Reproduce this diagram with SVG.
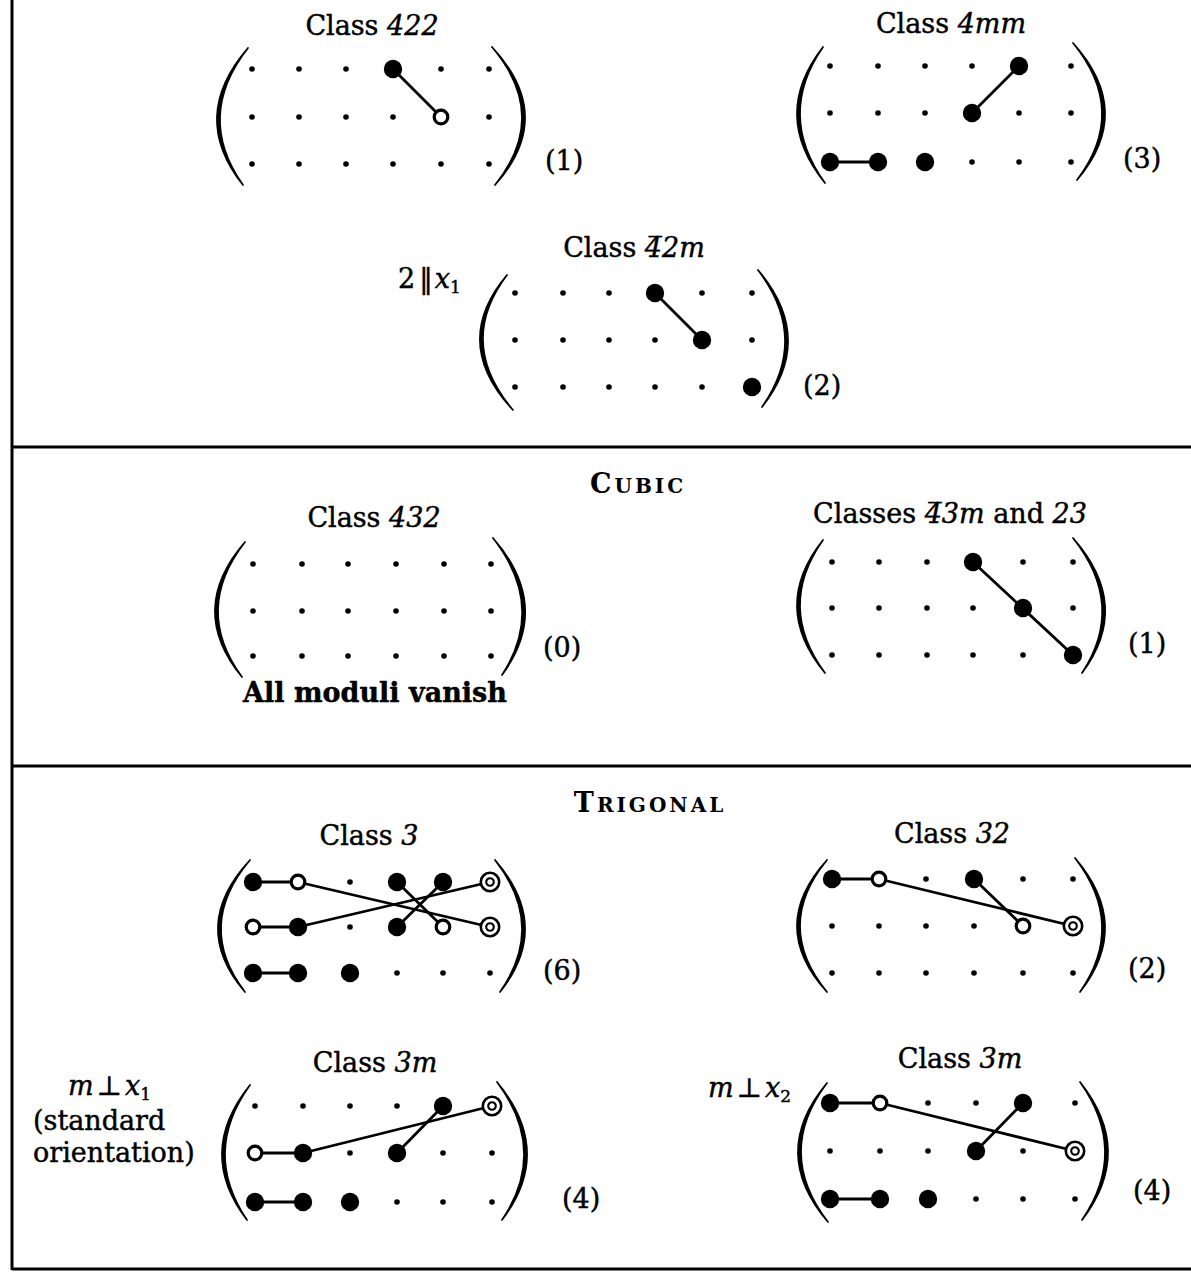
<svg xmlns="http://www.w3.org/2000/svg" xmlns:xlink="http://www.w3.org/1999/xlink" width="1191" height="1279" viewBox="0 0 1191 1279">
<style>
.t{font-family:"DejaVu Serif","Liberation Serif",serif;font-size:27px;fill:#000;stroke:#000;stroke-width:0.45px}
.m{text-anchor:middle}
.i{font-style:italic}
.b{font-weight:bold}
.sub{font-size:17px}
.par{fill:#000;stroke:#000;stroke-width:1.7;stroke-linejoin:round}
.ln{stroke:#000;stroke-width:2.8;fill:none;stroke-linecap:round}
.rule{stroke:#000;stroke-width:3;fill:none}
.hd{font-family:"DejaVu Serif","Liberation Serif",serif;font-weight:bold;fill:#000;letter-spacing:3px}
</style>
<defs>
<circle id="sd" r="2.8" fill="#000"/>
<circle id="bd" r="9.2" fill="#000"/>
<circle id="od" r="6.8" fill="#fff" stroke="#000" stroke-width="3.2"/>
<g id="dd"><circle r="9.2" fill="#fff" stroke="#000" stroke-width="2.6"/><circle r="3.8" fill="#fff" stroke="#000" stroke-width="2.1"/></g>
</defs>
<rect width="1191" height="1279" fill="#fff"/>

<g id="frame">
<line class="rule" x1="12" y1="0" x2="12" y2="1270"/>
<line class="rule" x1="12" y1="447" x2="1191" y2="447"/>
<line class="rule" x1="12" y1="766" x2="1191" y2="766"/>
<line class="rule" x1="12" y1="1269" x2="1191" y2="1269"/>
</g>

<g id="headings">
<text class="hd" x="638" y="493" text-anchor="middle"><tspan font-size="27">C</tspan><tspan font-size="20">UBIC</tspan></text>
<text class="hd" x="650" y="812" text-anchor="middle"><tspan font-size="27">T</tspan><tspan font-size="20">RIGONAL</tspan></text>
</g>

<g id="connectors">
<line class="ln" x1="393" y1="69" x2="441" y2="117"/>
<line class="ln" x1="1019" y1="66" x2="972" y2="113"/>
<line class="ln" x1="830" y1="162" x2="878" y2="162"/>
<line class="ln" x1="655" y1="293" x2="702" y2="340"/>
<line class="ln" x1="973" y1="562" x2="1073" y2="655"/>
<line class="ln" x1="253" y1="882" x2="298" y2="882"/>
<line class="ln" x1="253" y1="927" x2="298" y2="927"/>
<line class="ln" x1="253" y1="973" x2="298" y2="973"/>
<line class="ln" x1="298" y1="882" x2="490" y2="927"/>
<line class="ln" x1="298" y1="927" x2="490" y2="882"/>
<line class="ln" x1="397" y1="882" x2="443" y2="927"/>
<line class="ln" x1="443" y1="882" x2="397" y2="927"/>
<line class="ln" x1="832" y1="879" x2="879" y2="879"/>
<line class="ln" x1="879" y1="879" x2="1073" y2="926"/>
<line class="ln" x1="974" y1="879" x2="1023" y2="926"/>
<line class="ln" x1="255" y1="1153" x2="303" y2="1153"/>
<line class="ln" x1="255" y1="1202" x2="303" y2="1202"/>
<line class="ln" x1="303" y1="1153" x2="492" y2="1106"/>
<line class="ln" x1="443" y1="1106" x2="397" y2="1153"/>
<line class="ln" x1="830" y1="1103" x2="880" y2="1103"/>
<line class="ln" x1="830" y1="1199" x2="880" y2="1199"/>
<line class="ln" x1="880" y1="1103" x2="1075" y2="1151"/>
<line class="ln" x1="1023" y1="1103" x2="976" y2="1151"/>
</g>

<g id="class-422">
<text class="t m" x="372" y="35">Class <tspan class="i">422</tspan></text>
<path class="par" d="M248,48 Q188.5,116.5 243,185 Q194.5,116.5 248,48Z"/>
<path class="par" d="M492,47 Q556.5,116 495,185 Q550.5,116 492,47Z"/>
<use href="#sd" x="252" y="69"/><use href="#sd" x="299" y="69"/><use href="#sd" x="346" y="69"/><use href="#bd" x="393" y="69"/><use href="#sd" x="441" y="69"/><use href="#sd" x="489" y="69"/>
<use href="#sd" x="252" y="117"/><use href="#sd" x="299" y="117"/><use href="#sd" x="346" y="117"/><use href="#sd" x="393" y="117"/><use href="#od" x="441" y="117"/><use href="#sd" x="489" y="117"/>
<use href="#sd" x="252" y="164"/><use href="#sd" x="299" y="164"/><use href="#sd" x="346" y="164"/><use href="#sd" x="393" y="164"/><use href="#sd" x="441" y="164"/><use href="#sd" x="489" y="164"/>
<text class="t" x="545" y="170">(1)</text>
</g>

<g id="class-4mm">
<text class="t m" x="951" y="33">Class <tspan class="i">4mm</tspan></text>
<path class="par" d="M823,47 Q770,115 825,183 Q776,115 823,47Z"/>
<path class="par" d="M1073,43 Q1135,111.5 1077,180 Q1129,111.5 1073,43Z"/>
<use href="#sd" x="830" y="66"/><use href="#sd" x="878" y="66"/><use href="#sd" x="925" y="66"/><use href="#sd" x="972" y="66"/><use href="#bd" x="1019" y="66"/><use href="#sd" x="1071" y="66"/>
<use href="#sd" x="830" y="113"/><use href="#sd" x="878" y="113"/><use href="#sd" x="925" y="113"/><use href="#bd" x="972" y="113"/><use href="#sd" x="1019" y="113"/><use href="#sd" x="1071" y="113"/>
<use href="#bd" x="830" y="162"/><use href="#bd" x="878" y="162"/><use href="#bd" x="925" y="162"/><use href="#sd" x="972" y="162"/><use href="#sd" x="1019" y="162"/><use href="#sd" x="1071" y="162"/>
<text class="t" x="1123" y="168">(3)</text>
</g>

<g id="class-4bar2m">
<text class="t m" x="634" y="257">Class <tspan class="i">4&#x0305;2m</tspan></text>
<text class="t" x="398" y="288">2<tspan dx="4">‖</tspan><tspan class="i" dx="2">x</tspan><tspan class="sub" dy="5">1</tspan></text>
<path class="par" d="M507,275 Q450,342.5 513,410 Q456,342.5 507,275Z"/>
<path class="par" d="M758,270 Q816,338.5 762,407 Q810,338.5 758,270Z"/>
<use href="#sd" x="515" y="293"/><use href="#sd" x="563" y="293"/><use href="#sd" x="609" y="293"/><use href="#bd" x="655" y="293"/><use href="#sd" x="702" y="293"/><use href="#sd" x="752" y="293"/>
<use href="#sd" x="515" y="340"/><use href="#sd" x="563" y="340"/><use href="#sd" x="609" y="340"/><use href="#sd" x="655" y="340"/><use href="#bd" x="702" y="340"/><use href="#sd" x="752" y="340"/>
<use href="#sd" x="515" y="387"/><use href="#sd" x="563" y="387"/><use href="#sd" x="609" y="387"/><use href="#sd" x="655" y="387"/><use href="#sd" x="702" y="387"/><use href="#bd" x="752" y="387"/>
<text class="t" x="803" y="395">(2)</text>
</g>

<g id="class-432">
<text class="t m" x="374" y="527">Class <tspan class="i">432</tspan></text>
<path class="par" d="M245,542 Q186.5,609.5 242,677 Q192.5,609.5 245,542Z"/>
<path class="par" d="M493,538 Q552.5,606.5 502,675 Q546.5,606.5 493,538Z"/>
<use href="#sd" x="253" y="564"/><use href="#sd" x="302" y="564"/><use href="#sd" x="348" y="564"/><use href="#sd" x="396" y="564"/><use href="#sd" x="444" y="564"/><use href="#sd" x="491" y="564"/>
<use href="#sd" x="253" y="611"/><use href="#sd" x="302" y="611"/><use href="#sd" x="348" y="611"/><use href="#sd" x="396" y="611"/><use href="#sd" x="444" y="611"/><use href="#sd" x="491" y="611"/>
<use href="#sd" x="253" y="656"/><use href="#sd" x="302" y="656"/><use href="#sd" x="348" y="656"/><use href="#sd" x="396" y="656"/><use href="#sd" x="444" y="656"/><use href="#sd" x="491" y="656"/>
<text class="t" x="543" y="657">(0)</text>
<text class="t m b" x="375" y="702">All moduli vanish</text>
</g>

<g id="class-4bar3m-23">
<text class="t m" x="950" y="523">Classes <tspan class="i">4&#x0305;3m</tspan> and <tspan class="i">23</tspan></text>
<path class="par" d="M823,540 Q770,606.5 825,673 Q776,606.5 823,540Z"/>
<path class="par" d="M1073,538 Q1132.5,605.5 1082,673 Q1126.5,605.5 1073,538Z"/>
<use href="#sd" x="832" y="562"/><use href="#sd" x="879" y="562"/><use href="#sd" x="927" y="562"/><use href="#bd" x="973" y="562"/><use href="#sd" x="1023" y="562"/><use href="#sd" x="1073" y="562"/>
<use href="#sd" x="832" y="608"/><use href="#sd" x="879" y="608"/><use href="#sd" x="927" y="608"/><use href="#sd" x="973" y="608"/><use href="#bd" x="1023" y="608"/><use href="#sd" x="1073" y="608"/>
<use href="#sd" x="832" y="655"/><use href="#sd" x="879" y="655"/><use href="#sd" x="927" y="655"/><use href="#sd" x="973" y="655"/><use href="#sd" x="1023" y="655"/><use href="#bd" x="1073" y="655"/>
<text class="t" x="1128" y="653">(1)</text>
</g>

<g id="class-3">
<text class="t m" x="369" y="845">Class <tspan class="i">3</tspan></text>
<path class="par" d="M250,860 Q188.5,926 245,992 Q194.5,926 250,860Z"/>
<path class="par" d="M495,860 Q552.5,926 500,992 Q546.5,926 495,860Z"/>
<use href="#bd" x="253" y="882"/><use href="#od" x="298" y="882"/><use href="#sd" x="350" y="882"/><use href="#bd" x="397" y="882"/><use href="#bd" x="443" y="882"/><use href="#dd" x="490" y="882"/>
<use href="#od" x="253" y="927"/><use href="#bd" x="298" y="927"/><use href="#sd" x="350" y="927"/><use href="#bd" x="397" y="927"/><use href="#od" x="443" y="927"/><use href="#dd" x="490" y="927"/>
<use href="#bd" x="253" y="973"/><use href="#bd" x="298" y="973"/><use href="#bd" x="350" y="973"/><use href="#sd" x="397" y="973"/><use href="#sd" x="443" y="973"/><use href="#sd" x="490" y="973"/>
<text class="t" x="543" y="980">(6)</text>
</g>

<g id="class-32">
<text class="t m" x="952" y="843">Class <tspan class="i">32</tspan></text>
<path class="par" d="M827,860 Q767,926 827,992 Q773,926 827,860Z"/>
<path class="par" d="M1075,858 Q1132.5,925 1080,992 Q1126.5,925 1075,858Z"/>
<use href="#bd" x="832" y="879"/><use href="#od" x="879" y="879"/><use href="#sd" x="926" y="879"/><use href="#bd" x="974" y="879"/><use href="#sd" x="1023" y="879"/><use href="#sd" x="1073" y="879"/>
<use href="#sd" x="832" y="926"/><use href="#sd" x="879" y="926"/><use href="#sd" x="926" y="926"/><use href="#sd" x="974" y="926"/><use href="#od" x="1023" y="926"/><use href="#dd" x="1073" y="926"/>
<use href="#sd" x="832" y="973"/><use href="#sd" x="879" y="973"/><use href="#sd" x="926" y="973"/><use href="#sd" x="974" y="973"/><use href="#sd" x="1023" y="973"/><use href="#sd" x="1073" y="973"/>
<text class="t" x="1128" y="978">(2)</text>
</g>

<g id="class-3m-x1">
<text class="t m" x="375" y="1072">Class <tspan class="i">3m</tspan></text>
<text class="t" x="68" y="1095"><tspan class="i">m</tspan><tspan dx="3">⊥</tspan><tspan class="i" dx="3">x</tspan><tspan class="sub" dy="5">1</tspan></text>
<text class="t" x="33" y="1130">(standard</text>
<text class="t" x="33" y="1162">orientation)</text>
<path class="par" d="M250,1085 Q195.5,1152.5 247,1220 Q201.5,1152.5 250,1085Z"/>
<path class="par" d="M497,1082 Q554.5,1151 502,1220 Q548.5,1151 497,1082Z"/>
<use href="#sd" x="255" y="1106"/><use href="#sd" x="303" y="1106"/><use href="#sd" x="350" y="1106"/><use href="#sd" x="397" y="1106"/><use href="#bd" x="443" y="1106"/><use href="#dd" x="492" y="1106"/>
<use href="#od" x="255" y="1153"/><use href="#bd" x="303" y="1153"/><use href="#sd" x="350" y="1153"/><use href="#bd" x="397" y="1153"/><use href="#sd" x="443" y="1153"/><use href="#sd" x="492" y="1153"/>
<use href="#bd" x="255" y="1202"/><use href="#bd" x="303" y="1202"/><use href="#bd" x="350" y="1202"/><use href="#sd" x="397" y="1202"/><use href="#sd" x="443" y="1202"/><use href="#sd" x="492" y="1202"/>
<text class="t" x="562" y="1208">(4)</text>
</g>

<g id="class-3m-x2">
<text class="t m" x="960" y="1068">Class <tspan class="i">3m</tspan></text>
<text class="t" x="708" y="1097"><tspan class="i">m</tspan><tspan dx="3">⊥</tspan><tspan class="i" dx="3">x</tspan><tspan class="sub" dy="5">2</tspan></text>
<path class="par" d="M827,1083 Q768.5,1152.5 828,1222 Q774.5,1152.5 827,1083Z"/>
<path class="par" d="M1080,1082 Q1135,1151 1082,1220 Q1129,1151 1080,1082Z"/>
<use href="#bd" x="830" y="1103"/><use href="#od" x="880" y="1103"/><use href="#sd" x="928" y="1103"/><use href="#sd" x="976" y="1103"/><use href="#bd" x="1023" y="1103"/><use href="#sd" x="1075" y="1103"/>
<use href="#sd" x="830" y="1151"/><use href="#sd" x="880" y="1151"/><use href="#sd" x="928" y="1151"/><use href="#bd" x="976" y="1151"/><use href="#sd" x="1023" y="1151"/><use href="#dd" x="1075" y="1151"/>
<use href="#bd" x="830" y="1199"/><use href="#bd" x="880" y="1199"/><use href="#bd" x="928" y="1199"/><use href="#sd" x="976" y="1199"/><use href="#sd" x="1023" y="1199"/><use href="#sd" x="1075" y="1199"/>
<text class="t" x="1133" y="1200">(4)</text>
</g>
</svg>
